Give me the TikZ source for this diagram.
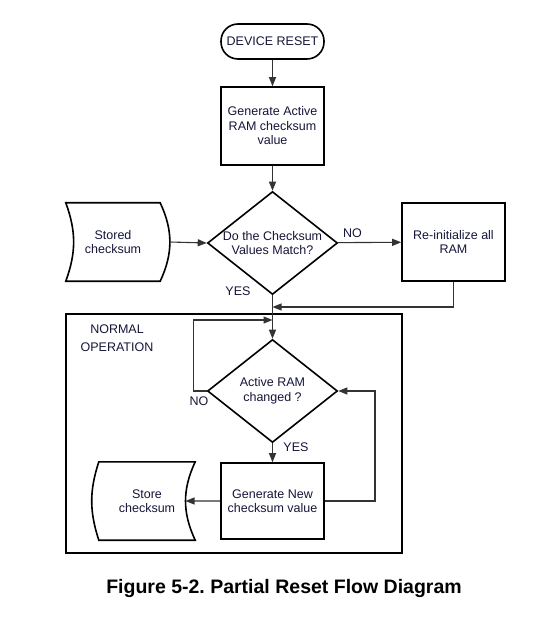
\documentclass[tikz,border=0pt]{standalone}
\usepackage{fontspec}
\setmainfont{Liberation Sans}
\usetikzlibrary{arrows.meta,shapes.geometric}
\definecolor{ink}{RGB}{22,22,58}
\frenchspacing
\newcommand{\fs}{\fontsize{12.5}{14.5}\selectfont}
\tikzset{
  trm/.style={rectangle,rounded corners=17pt,draw=black,line width=1.6pt,minimum width=103pt,minimum height=35pt,inner sep=0pt,font=\fs,text=ink},
  bx/.style={rectangle,draw=black,line width=1.6pt,minimum width=103pt,minimum height=78pt,inner sep=0pt,align=center,font=\fs,text=ink},
  dia/.style={diamond,draw=black,line width=1.6pt,aspect=1.26,minimum width=130pt,minimum height=103pt,inner sep=0pt,align=center,font=\fs,text=ink},
  sd/.style={rectangle,minimum width=96pt,minimum height=78pt,inner sep=0pt,align=center,font=\fs,text=ink},
  sdl/.style={draw=black,line width=1.6pt},
  frm/.style={rectangle,draw=black,line width=1.6pt,minimum width=336pt,minimum height=239pt,inner sep=0pt},
  arr/.style={-{Triangle[length=9pt,width=7pt]},draw=black!80,line width=1.1pt},
  lb/.style={font=\fs,text=ink},
}
\begin{document}
\begin{tikzpicture}[x=1pt,y=-1pt]
\fill[white] (0,0) rectangle (550,620);
\useasboundingbox (0,0) rectangle (550,620);
% top part: reset and checksum test
\node[trm] (rst) at (272.5,41.5) {DEVICE RESET};
\node[bx] (gen) at (272.5,126) {Generate Active\\RAM checksum\\value};
\node[dia] (chk) at (272.5,243) {Do the Checksum\\Values Match?};
\node[sd,minimum width=94pt] (stored) at (113,242) {Stored\\checksum};
\draw[sdl] (stored.north west) to[bend left=20] (stored.south west) -- (stored.south east)
  to[bend right=25] coordinate[pos=.5] (storedr) (stored.north east) -- cycle;
\node[bx] (reinit) at (453.5,242) {Re-initialize all\\RAM};
\coordinate (jr) at (272.5,307);
\coordinate (jn) at (272.5,320);
\draw[arr] (rst) -- (gen);
\draw[arr] (gen) -- (chk);
\draw[arr] (storedr) -- (chk.west);
\draw[arr] (chk) -- node[lb,above=1pt,pos=.23] (no1) {NO} (reinit);
\node[lb] (yes1) at (238,291) {YES};
\draw[arr] (reinit) |- (jr);
% normal operation loop
\node[frm] (normal) at (234,433.5) {};
\node[lb,align=center] (normtxt) at (117,338) {NORMAL\\[3pt]OPERATION};
\node[dia] (chg) at (272.5,391) {Active RAM\\changed ?};
\node[bx,minimum height=76pt] (newsum) at (272.5,501) {Generate New\\checksum value};
\node[sd] (store) at (147,501) {Store\\checksum};
\draw[sdl] (store.north west) to[bend right=18] (store.south west) -- (store.south east)
  to[bend left=25] coordinate[pos=.5] (storer) (store.north east) -- cycle;
\coordinate (fb) at (375,391);
\draw[arr] (chk) -- (chg);
\draw[arr] (chg.west) -- ++(-13,0) |- (jn);
\node[lb] (no2) at (199,401) {NO};
\draw[arr] (chg) -- (newsum);
\node[lb] (yes2) at (296,447) {YES};
\draw[arr] (newsum) -- (storer);
\draw[arr] (newsum.east) -| (fb) -- (chg.east);
% caption
\node[anchor=base,font=\fontsize{19.5}{22}\selectfont\bfseries] (cap) at (284,593)
  {Figure 5-2. Partial Reset Flow Diagram};
\end{tikzpicture}
\end{document}
